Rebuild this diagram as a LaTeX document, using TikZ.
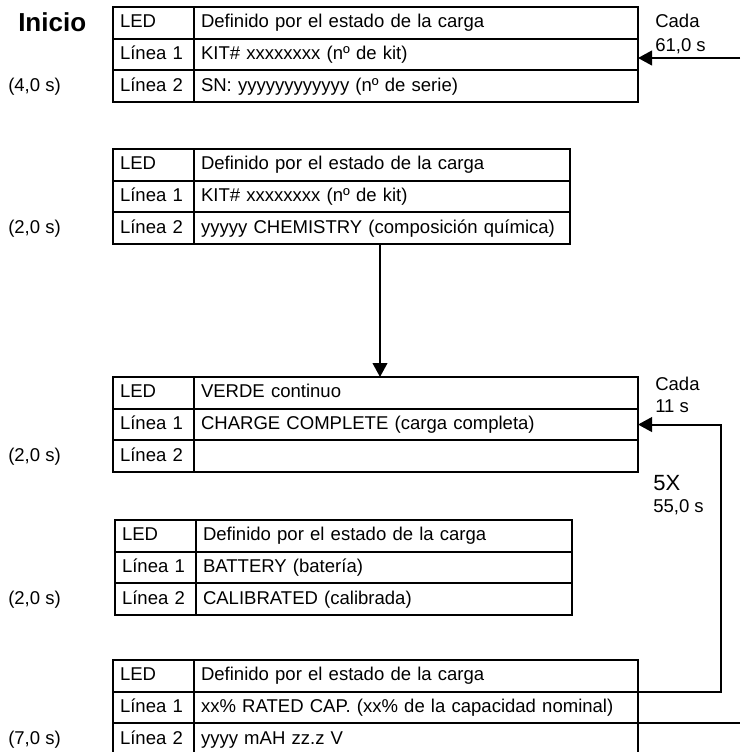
\documentclass[tikz,border=0pt]{standalone}
\usepackage{fontspec}
\setmainfont{Liberation Sans}
\usetikzlibrary{arrows.meta}
\newcommand\bodyfont{\fontsize{13.9pt}{16.5pt}\selectfont}
\begin{document}
\begin{tikzpicture}[x=0.75pt,y=-0.75pt,
  cell/.style={draw, line width=1.5pt, anchor=north west, inner xsep=5.25pt, inner ysep=0pt, outer sep=0pt, minimum height=23.775pt, text height=0.72em, text depth=0pt, align=left, font=\bodyfont},
  ledcell/.style={cell, text width=50.25pt},
  widecell/.style={cell, text width=322.5pt},
  narrowcell/.style={cell, text width=271.5pt},
  side/.style={anchor=base west, inner sep=0pt, font=\bodyfont},
  conn/.style={line width=1.5pt},
  arr/.style={conn, -{Triangle[length=10.5pt,width=11pt]}},
]
\fill[white] (0,0) rectangle (740,752);
\useasboundingbox (0,0) rectangle (740,752);

% Box 1
\node[ledcell] (b1a) at (113,7) {LED};
\node[widecell] (b1b) at (b1a.north east) {Definido por el estado de la carga};
\node[ledcell] (b1c) at (b1a.south west) {Línea 1};
\node[widecell] (b1d) at (b1c.north east) {KIT\# xxxxxxxx (nº de kit)};
\node[ledcell] (b1e) at (b1c.south west) {Línea 2};
\node[widecell] (b1f) at (b1e.north east) {SN: yyyyyyyyyyyy (nº de serie)};

% Box 2
\node[ledcell] (b2a) at (113,149) {LED};
\node[narrowcell] (b2b) at (b2a.north east) {Definido por el estado de la carga};
\node[ledcell] (b2c) at (b2a.south west) {Línea 1};
\node[narrowcell] (b2d) at (b2c.north east) {KIT\# xxxxxxxx (nº de kit)};
\node[ledcell] (b2e) at (b2c.south west) {Línea 2};
\node[narrowcell] (b2f) at (b2e.north east) {yyyyy CHEMISTRY (composición química)};

% Box 3
\node[ledcell] (b3a) at (113,377) {LED};
\node[widecell] (b3b) at (b3a.north east) {VERDE continuo};
\node[ledcell] (b3c) at (b3a.south west) {Línea 1};
\node[widecell] (b3d) at (b3c.north east) {CHARGE COMPLETE (carga completa)};
\node[ledcell] (b3e) at (b3c.south west) {Línea 2};
\node[widecell] (b3f) at (b3e.north east) {};

% Box 4
\node[ledcell] (b4a) at (115,520) {LED};
\node[narrowcell] (b4b) at (b4a.north east) {Definido por el estado de la carga};
\node[ledcell] (b4c) at (b4a.south west) {Línea 1};
\node[narrowcell] (b4d) at (b4c.north east) {BATTERY (batería)};
\node[ledcell] (b4e) at (b4c.south west) {Línea 2};
\node[narrowcell] (b4f) at (b4e.north east) {CALIBRATED (calibrada)};

% Box 5
\node[ledcell] (b5a) at (113,660) {LED};
\node[widecell] (b5b) at (b5a.north east) {Definido por el estado de la carga};
\node[ledcell] (b5c) at (b5a.south west) {Línea 1};
\node[widecell] (b5d) at (b5c.north east) {xx\% RATED CAP. (xx\% de la capacidad nominal)};
\node[ledcell] (b5e) at (b5c.south west) {Línea 2};
\node[widecell] (b5f) at (b5e.north east) {yyyy mAH zz.z V};

% side labels
\node[anchor=base west, inner sep=0pt, font=\fontsize{19.5pt}{22pt}\selectfont\bfseries] (start) at (18,32) {Inicio};
\coordinate (lx) at (8,0);
\node[side] (t1) at (lx |- b1e.base) {(4,0 s)};
\node[side] (t2) at (lx |- b2e.base) {(2,0 s)};
\node[side] (t3) at (lx |- b3e.base) {(2,0 s)};
\node[side] (t4) at (lx |- b4e.base) {(2,0 s)};
\node[side] (t5) at (lx |- b5e.base) {(7,0 s)};

\node[side] (c1) at (655,28) {Cada};
\node[side] (c1b) at (655,52) {61,0 s};
\node[side] (c2) at (655,390) {Cada};
\node[side] (c2b) at (655,412) {11 s};
\node[side, font=\fontsize{16.5pt}{19pt}\selectfont] (rep) at (653,490) {5X};
\node[side] (rept) at (653,512) {55,0 s};

% connectors
\coordinate (src1) at (740,58);
\draw[arr] (src1) -- (src1 -| b1d.east);
\coordinate (ax) at (380,0);
\draw[arr] (ax |- b2f.south) -- (ax |- b3b.north);
\coordinate (loopx) at (721,0);
\draw[arr] (b5b.south east) -| (loopx |- b3d.east) -- (b3d.east);
\coordinate (out) at (740,0);
\draw[conn] (b5d.south east) -- (out |- b5d.south east);
\end{tikzpicture}
\end{document}
